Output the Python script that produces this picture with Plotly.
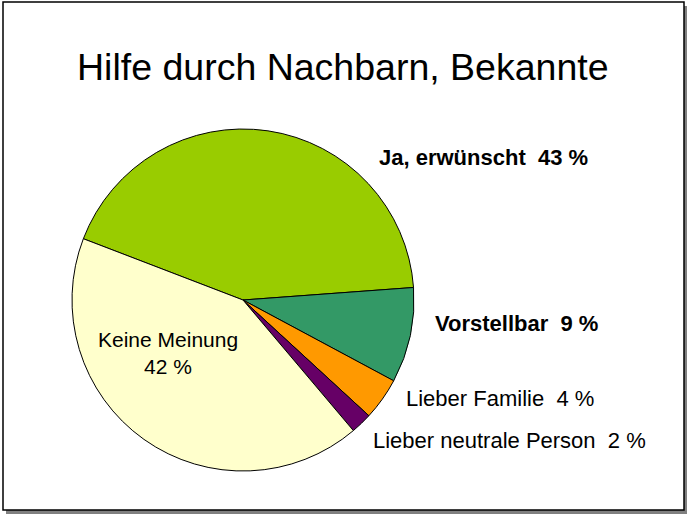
import plotly.graph_objects as go

labels = ['Ja, erwünscht', 'Vorstellbar', 'Lieber Familie', 'Lieber neutrale Person', 'Keine Meinung']
values = [43, 9, 4, 2, 42]
colors = ['#99CC00', '#339966', '#FF9900', '#660066', '#FFFFCC']
bold = [True, True, False, False, False]

# label anchor points (pixels from top-left) for the annotations
label_x = [483, 516, 500, 510, 168]
label_y = [157, 323, 398, 440, 353]

W, H = 687, 515

fig = go.Figure(go.Pie(
    labels=labels, values=values, sort=False, direction='clockwise',
    rotation=291, marker=dict(colors=colors, line=dict(color='black', width=1)),
    textinfo='none', hoverinfo='label+percent', showlegend=False,
    domain=dict(x=[72 / W, 414 / W], y=[1 - 471 / H, 1 - 129 / H]),
))

for lab, v, b, x, y in zip(labels, values, bold, label_x, label_y):
    if lab == 'Keine Meinung':
        txt = f'{lab}<br>{v} %'
        size = 21
    else:
        txt = f'{lab}\u00a0\u00a0{v} %'
        size = 22
    if b:
        txt = f'<b>{txt}</b>'
    fig.add_annotation(x=x / W, y=1 - y / H, xref='paper', yref='paper',
                       text=txt, showarrow=False, xanchor='center', yanchor='middle',
                       font=dict(size=size, color='black'))

fig.add_annotation(x=343 / W, y=1 - 67 / H, xref='paper', yref='paper',
                   text='Hilfe durch Nachbarn, Bekannte', showarrow=False,
                   xanchor='center', yanchor='middle',
                   font=dict(size=37.5, color='black'))

# frame with drop shadow
fig.add_shape(type='rect', xref='paper', yref='paper', layer='below',
              x0=6 / W, x1=687 / W, y0=1 - 514 / H, y1=1 - 6 / H,
              fillcolor='#808080', line=dict(width=0))
fig.add_shape(type='rect', xref='paper', yref='paper', layer='below',
              x0=3 / W, x1=684 / W, y0=1 - 510 / H, y1=1 - 2 / H,
              fillcolor='white', line=dict(color='black', width=1.5))

fig.update_layout(
    width=W, height=H,
    template=None,
    font=dict(family='Liberation Sans, Arial, sans-serif'),
    paper_bgcolor='white',
    margin=dict(l=0, r=0, t=0, b=0),
)

fig.write_html('out.html', config={'displayModeBar': False},
               post_script="document.body.style.margin='0';document.body.style.overflow='hidden';")
